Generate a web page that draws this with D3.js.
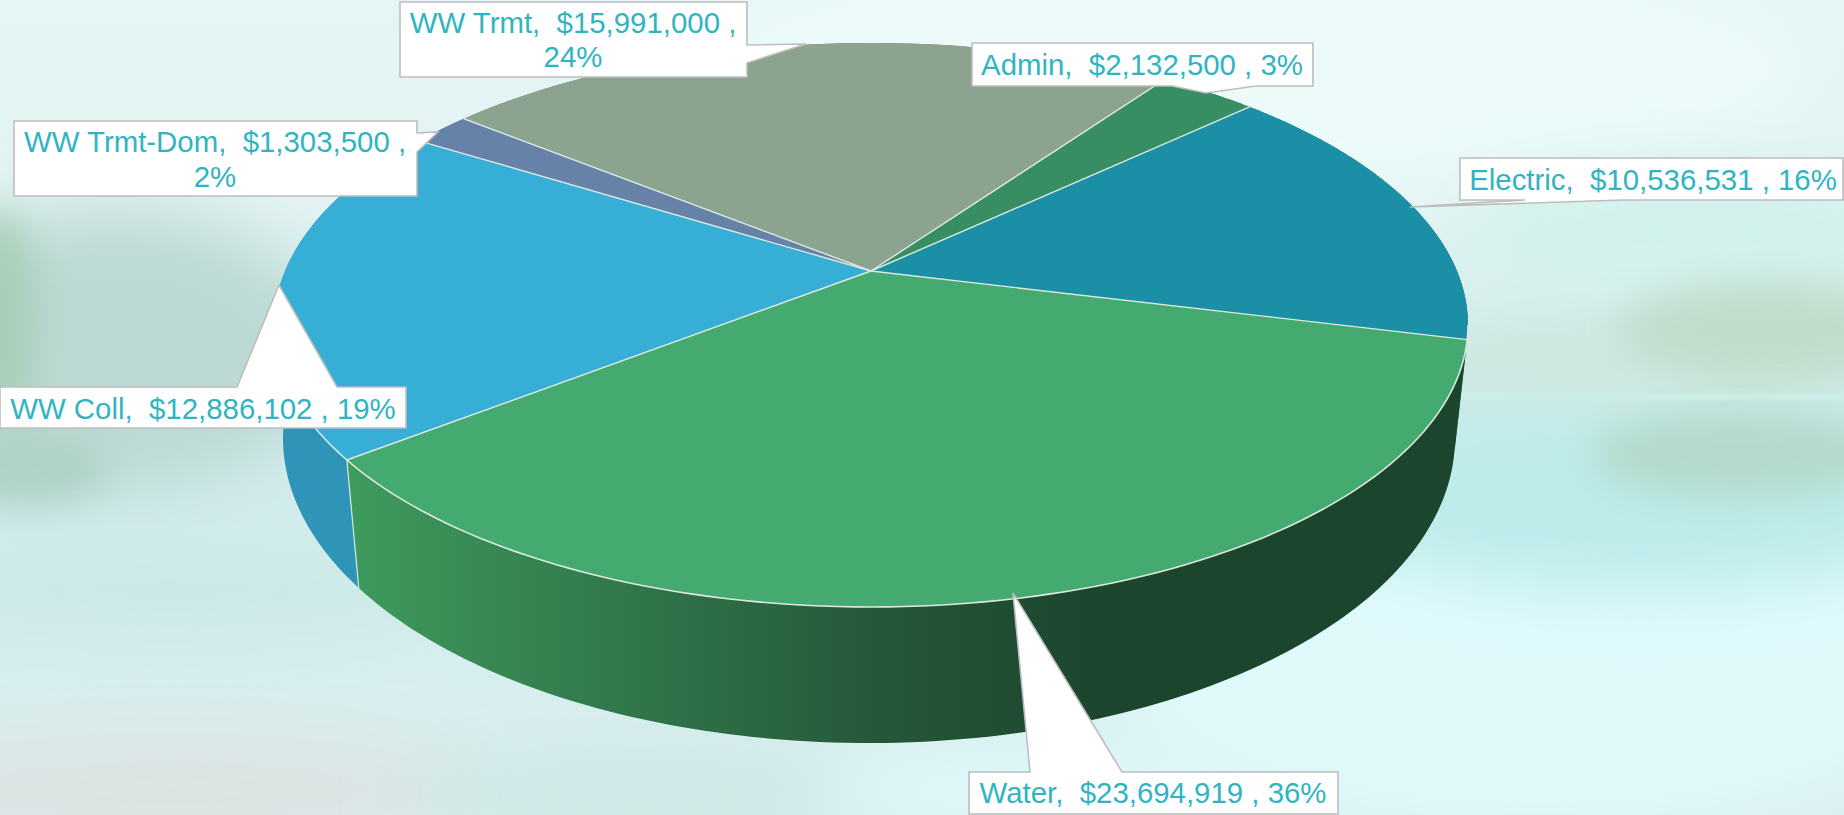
<!DOCTYPE html>
<html><head><meta charset="utf-8">
<script src="https://cdn.jsdelivr.net/npm/d3@7"></script>
<style>html,body{margin:0;padding:0;background:#e2f6f7;overflow:hidden}svg{display:block}</style>
</head><body><svg id="c" width="1844" height="815"></svg>
<script>
// ---- data ----
const categories = ["Admin","Electric","Water","WW Coll","WW Trmt-Dom","WW Trmt"];
const values = [2132500,10536531,23694919,12886102,1303500,15991000];

// ---- styles ----
const topColors  = ["#368e62","#1b8fa5","#45aa70","#36aed6","#6782a9","#8ba38f"];
const wallColors = ["#256a48","#14707f","url(#waterWall)","#2e95b9","#4c6485","#6b8270"];
const textColor = "#31b4c1", calloutStroke = "#bdbdbd", rimColor = "#dbe8e0";

// ---- projection: the pie disc seen in perspective ----
const firstSliceAngle = 35.4 * Math.PI/180;
const topDisc    = {cx:871, cy:325, a:597, b:282, k:0.1915};
const bottomDisc = {cx:869, cy:438, a:586, b:305, k:0.175};
const project = (d, t, r=1) => {
  const u = r*Math.sin(t), v = r*Math.cos(t), w = 1 + d.k*v;
  return [d.cx + d.a*Math.sqrt(1-d.k*d.k)*u/w, d.cy + (-d.k*d.b - d.b*v)/w];
};
const svg = d3.select("#c");
const defs = svg.append("defs");
const line = d3.line();
const pie = d3.pie().sort(null).startAngle(firstSliceAngle).endAngle(firstSliceAngle+2*Math.PI);
const arcs = pie(values);
const sample = (a,b) => d3.range(0,121).map(i => a+(b-a)*i/120);

// ---- background: misty lake wash ----
const bgGrad = defs.append("linearGradient").attr("id","bg").attr("x1",0).attr("y1",0).attr("x2",0).attr("y2",1);
[[0,"#e6f5f5"],[.25,"#e2f3f2"],[.5,"#cfeaea"],[.7,"#d4eeee"],[1,"#dbeeee"]].forEach(s=>bgGrad.append("stop").attr("offset",s[0]).attr("stop-color",s[1]));
const addBlur = (id,sd) => defs.append("filter").attr("id",id).attr("x","-50%").attr("y","-50%").attr("width","200%").attr("height","200%")
  .append("feGaussianBlur").attr("stdDeviation",sd);
addBlur("blur",34); addBlur("blurM",18); addBlur("blurS",1.5);
svg.append("rect").attr("width",1844).attr("height",815).attr("fill","url(#bg)");
const wash = [
  {cx:1250,cy:70,rx:560,ry:120,c:"#ecfafa",o:1,f:"blur"},
  {cx:1700,cy:230,rx:240,ry:60,c:"#cff1ec",o:.9,f:"blur"},
  {cx:1540,cy:660,rx:430,ry:170,c:"#e0fafc",o:1,f:"blur"},
  {cx:1640,cy:500,rx:330,ry:90,c:"#bcebea",o:1,f:"blur"},
  {cx:1650,cy:360,rx:240,ry:50,c:"#cde8e0",o:.9,f:"blurM"},
  {cx:1770,cy:330,rx:150,ry:50,c:"#c0ddcb",o:.95,f:"blurM"},
  {cx:1740,cy:455,rx:150,ry:42,c:"#b3d9c9",o:.95,f:"blurM"},
  {cx:110,cy:350,rx:220,ry:140,c:"#bcd9d3",o:1,f:"blur"},
  {cx:0,cy:320,rx:36,ry:110,c:"#a6ccb4",o:.9,f:"blurM"},
  {cx:20,cy:470,rx:90,ry:40,c:"#abcfc2",o:.8,f:"blurM"},
  {cx:170,cy:590,rx:280,ry:50,c:"#cbe8e6",o:.9,f:"blur"},
  {cx:170,cy:790,rx:300,ry:55,c:"#dde2e2",o:.95,f:"blur"},
  {cx:640,cy:795,rx:240,ry:40,c:"#c7e6e3",o:.8,f:"blur"},
  {cx:1040,cy:790,rx:220,ry:40,c:"#dff9fb",o:1,f:"blur"}
];
svg.append("g").selectAll("ellipse").data(wash).join("ellipse")
  .attr("cx",d=>d.cx).attr("cy",d=>d.cy).attr("rx",d=>d.rx).attr("ry",d=>d.ry)
  .attr("fill",d=>d.c).attr("opacity",d=>d.o).attr("filter",d=>`url(#${d.f})`);
svg.append("rect").attr("x",1455).attr("y",394).attr("width",389).attr("height",5).attr("fill","#cbf0e9").attr("filter","url(#blurS)");

// ---- side walls ----
const wg = defs.append("linearGradient").attr("id","waterWall").attr("gradientUnits","userSpaceOnUse")
  .attr("x1",356).attr("y1",0).attr("x2",1100).attr("y2",0);
[[0,"#3e9a5d"],[.35,"#31784b"],[.7,"#25583a"],[1,"#1c452d"]].forEach(s=>wg.append("stop").attr("offset",s[0]).attr("stop-color",s[1]));
svg.append("g").selectAll("path.wall").data(arcs).join("path").attr("class","wall")
  .attr("d",d=>{
    const ts = sample(d.startAngle,d.endAngle);
    return line(ts.map(t=>project(topDisc,t)).concat(ts.slice().reverse().map(t=>project(bottomDisc,t))))+"Z";
  }).attr("fill",(d,i)=>wallColors[i]);
// the wall edge at the Water / WW Coll join
svg.append("path").attr("d",line([project(topDisc,arcs[2].endAngle),project(bottomDisc,arcs[2].endAngle)]))
  .attr("stroke",rimColor).attr("stroke-width",1.2).attr("fill","none");

// ---- top face ----
svg.append("g").selectAll("path.top").data(arcs).join("path").attr("class","top")
  .attr("d",d=>line([project(topDisc,0,0)].concat(sample(d.startAngle,d.endAngle).map(t=>project(topDisc,t))))+"Z")
  .attr("fill",(d,i)=>topColors[i]);
svg.append("g").selectAll("path.spoke").data(arcs).join("path").attr("class","spoke")
  .attr("d",d=>line([project(topDisc,0,0),project(topDisc,d.startAngle)]))
  .attr("stroke",rimColor).attr("stroke-width",1.4).attr("fill","none");
// rim highlight on the front of the disc
const frontFrom = Math.PI - Math.acos(topDisc.k), frontTo = Math.PI + Math.acos(topDisc.k);
svg.append("path").attr("d",line(sample(frontFrom,frontTo).map(t=>project(topDisc,t))))
  .attr("stroke",rimColor).attr("stroke-width",1.6).attr("fill","none");

// ---- callouts ----
const money = d3.format("$,"), pct = d3.format(".0%");
const total = d3.sum(values);
const calloutLayout = {
  "WW Trmt":{box:[400,2,747,77],ptr:[[747,45],[806,44],[747,63]],side:"r",lines:[[573,33],[573,67]],wrap:true},
  "Admin":{box:[972,43,1313,86],ptr:[[1172,86],[1206,93],[1256,86]],side:"b",lines:[[1142,75]]},
  "Electric":{box:[1460,158,1843,200],ptr:[[1525,200],[1410,207],[1622,200]],side:"b",lines:[[1653,190]]},
  "Water":{box:[969,772,1338,814],ptr:[[1030,772],[1013,593],[1122,772]],side:"t",lines:[[1153,803]]},
  "WW Coll":{box:[0,387,406,428],ptr:[[237,387],[279,285],[337,387]],side:"t",lines:[[203,419]]},
  "WW Trmt-Dom":{box:[14,121,417,196],ptr:[[417,133],[438,132],[417,152]],side:"r",lines:[[215,152],[215,187]],wrap:true}
};
const drawOrder = ["WW Trmt","Admin","Electric","Water","WW Coll","WW Trmt-Dom"];
const co = svg.append("g").selectAll("g").data(drawOrder).join("g");
co.append("path").attr("d",name=>{
  const {box:[x0,y0,x1,y1],ptr,side} = calloutLayout[name];
  let pts;
  if(side==="r") pts=[[x0,y0],[x1,y0],ptr[0],ptr[1],ptr[2],[x1,y1],[x0,y1]];
  if(side==="b") pts=[[x0,y0],[x1,y0],[x1,y1],ptr[2],ptr[1],ptr[0],[x0,y1]];
  if(side==="t") pts=[[x0,y0],ptr[0],ptr[1],ptr[2],[x1,y0],[x1,y1],[x0,y1]];
  return line(pts)+"Z";
}).attr("fill","#fff").attr("stroke",calloutStroke).attr("stroke-width",1.6);
co.each(function(name){
  const i = categories.indexOf(name), L = calloutLayout[name];
  const head = `${name},  ${money(values[i])} ,`, p = pct(values[i]/total);
  const rows = L.wrap ? [head,p] : [`${head} ${p}`];
  d3.select(this).selectAll("text").data(rows).join("text")
    .attr("x",(d,j)=>L.lines[j][0]).attr("y",(d,j)=>L.lines[j][1])
    .attr("text-anchor","middle").attr("fill",textColor)
    .style("font-family","'Liberation Sans',Arial,sans-serif").style("font-size","29.4px").style("white-space","pre")
    .text(d=>d);
});
</script></body></html>
